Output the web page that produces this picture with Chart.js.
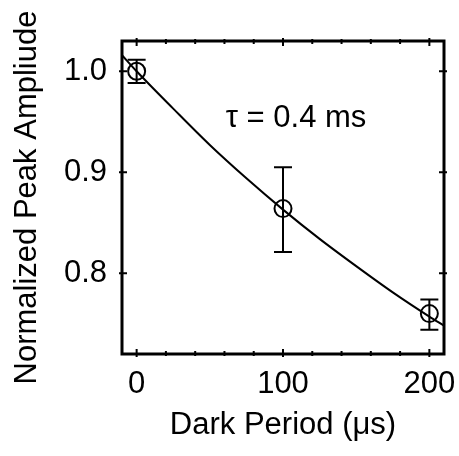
<!DOCTYPE html>
<html>
<head>
<meta charset="utf-8">
<script src="https://cdn.jsdelivr.net/npm/chart.js@4/dist/chart.umd.min.js"></script>
<style>
html,body{margin:0;padding:0;background:#fff;}
#wrap{width:459px;height:456px;position:relative;}
</style>
</head>
<body>
<div id="wrap"><canvas id="c" width="459" height="456"></canvas></div>
<script>
// Measured points
const darkPeriod = [0, 100, 200];
const amplitude = [1.0, 0.864, 0.760];
const errUp = [0.0115, 0.041, 0.014];
const errDown = [0.0115, 0.043, 0.016];
// Fit curve
const fitX = [-10, 0, 25, 50, 75, 100, 125, 150, 175, 200, 210];
const fitY = [1.016, 1.0, 0.963, 0.927, 0.894, 0.863, 0.834, 0.807, 0.781, 0.757, 0.748];
// Ticks
const xTicks = [0, 100, 200];
const xMinorTicks = [20, 40, 60, 80, 120, 140, 160, 180];
const yTicks = [0.8, 0.9, 1.0];
const annotationText = 'τ = 0.4 ms';
const annotationPos = [108.9, 0.9535];

const FONT = "'Liberation Sans', Arial, Helvetica, sans-serif";
const FS = 31;

const framePlugin = {
  id: 'frame',
  afterDatasetsDraw(chart) {
    const {ctx, chartArea: a, scales: {x, y}} = chart;
    ctx.save();
    ctx.strokeStyle = '#000';
    ctx.fillStyle = '#000';
    // error bars
    ctx.lineWidth = 2;
    darkPeriod.forEach((xv, i) => {
      const px = x.getPixelForValue(xv);
      const pt = y.getPixelForValue(amplitude[i] + errUp[i]);
      const pb = y.getPixelForValue(amplitude[i] - errDown[i]);
      ctx.beginPath();
      ctx.moveTo(px, pt); ctx.lineTo(px, pb);
      ctx.moveTo(px - 9, pt); ctx.lineTo(px + 9, pt);
      ctx.moveTo(px - 9, pb); ctx.lineTo(px + 9, pb);
      ctx.stroke();
    });
    // frame
    ctx.lineWidth = 3;
    ctx.strokeRect(a.left, a.top, a.right - a.left, a.bottom - a.top);
    // ticks
    ctx.lineWidth = 2;
    ctx.beginPath();
    xTicks.forEach(v => {
      const px = x.getPixelForValue(v);
      ctx.moveTo(px, a.bottom - 5); ctx.lineTo(px, a.bottom + 3);
      ctx.moveTo(px, a.top - 3); ctx.lineTo(px, a.top + 5);
    });
    xMinorTicks.forEach(v => {
      const px = x.getPixelForValue(v);
      ctx.moveTo(px, a.bottom - 3); ctx.lineTo(px, a.bottom + 2);
      ctx.moveTo(px, a.top - 2); ctx.lineTo(px, a.top + 3);
    });
    yTicks.forEach(v => {
      const py = y.getPixelForValue(v);
      ctx.moveTo(a.left - 3, py); ctx.lineTo(a.left + 5, py);
      ctx.moveTo(a.right - 5, py); ctx.lineTo(a.right + 3, py);
    });
    ctx.stroke();
    // annotation
    ctx.font = FS + 'px ' + FONT;
    ctx.textAlign = 'center';
    ctx.textBaseline = 'middle';
    ctx.fillText(annotationText, x.getPixelForValue(annotationPos[0]), y.getPixelForValue(annotationPos[1]));
    ctx.restore();
  }
};

new Chart(document.getElementById('c'), {
  type: 'scatter',
  data: {
    datasets: [
      {
        type: 'line',
        data: fitX.map((v, i) => ({x: v, y: fitY[i]})),
        borderColor: '#000',
        borderWidth: 2,
        pointRadius: 0,
        fill: false,
        tension: 0.4,
        cubicInterpolationMode: 'monotone'
      },
      {
        data: darkPeriod.map((v, i) => ({x: v, y: amplitude[i]})),
        pointStyle: 'circle',
        pointRadius: 8.5,
        pointBorderWidth: 2,
        borderColor: '#000',
        backgroundColor: 'rgba(0,0,0,0)',
        pointBackgroundColor: 'rgba(0,0,0,0)'
      }
    ]
  },
  options: {
    responsive: false,
    animation: false,
    devicePixelRatio: 1,
    layout: {padding: {top: 41, right: 15, left: 0, bottom: 0}},
    plugins: {legend: {display: false}, tooltip: {enabled: false}},
    scales: {
      x: {
        type: 'linear',
        min: -10, max: 210,
        grid: {display: false, drawTicks: false},
        border: {display: false},
        afterBuildTicks: s => { s.ticks = xTicks.map(v => ({value: v})); },
        afterFit: s => { s.height = 102; s.paddingLeft = 0; s.paddingRight = 0; },
        ticks: {color: '#000', font: {family: FONT, size: FS}, padding: 12, maxRotation: 0},
        title: {display: true, text: 'Dark Period (μs)', color: '#000', font: {family: FONT, size: FS}, padding: {top: 0, bottom: 12}}
      },
      y: {
        type: 'linear',
        min: 0.72, max: 1.03,
        grid: {display: false, drawTicks: false},
        border: {display: false},
        afterBuildTicks: s => { s.ticks = yTicks.map(v => ({value: v})); },
        afterFit: s => { s.width = 122; s.paddingTop = 0; s.paddingBottom = 0; },
        ticks: {color: '#000', font: {family: FONT, size: FS}, padding: 15, callback: v => v.toFixed(1)},
        title: {display: true, text: 'Normalized Peak Ampliude', color: '#000', font: {family: FONT, size: FS}, padding: {top: 9, bottom: 0}}
      }
    }
  },
  plugins: [framePlugin]
});
</script>
</body>
</html>
